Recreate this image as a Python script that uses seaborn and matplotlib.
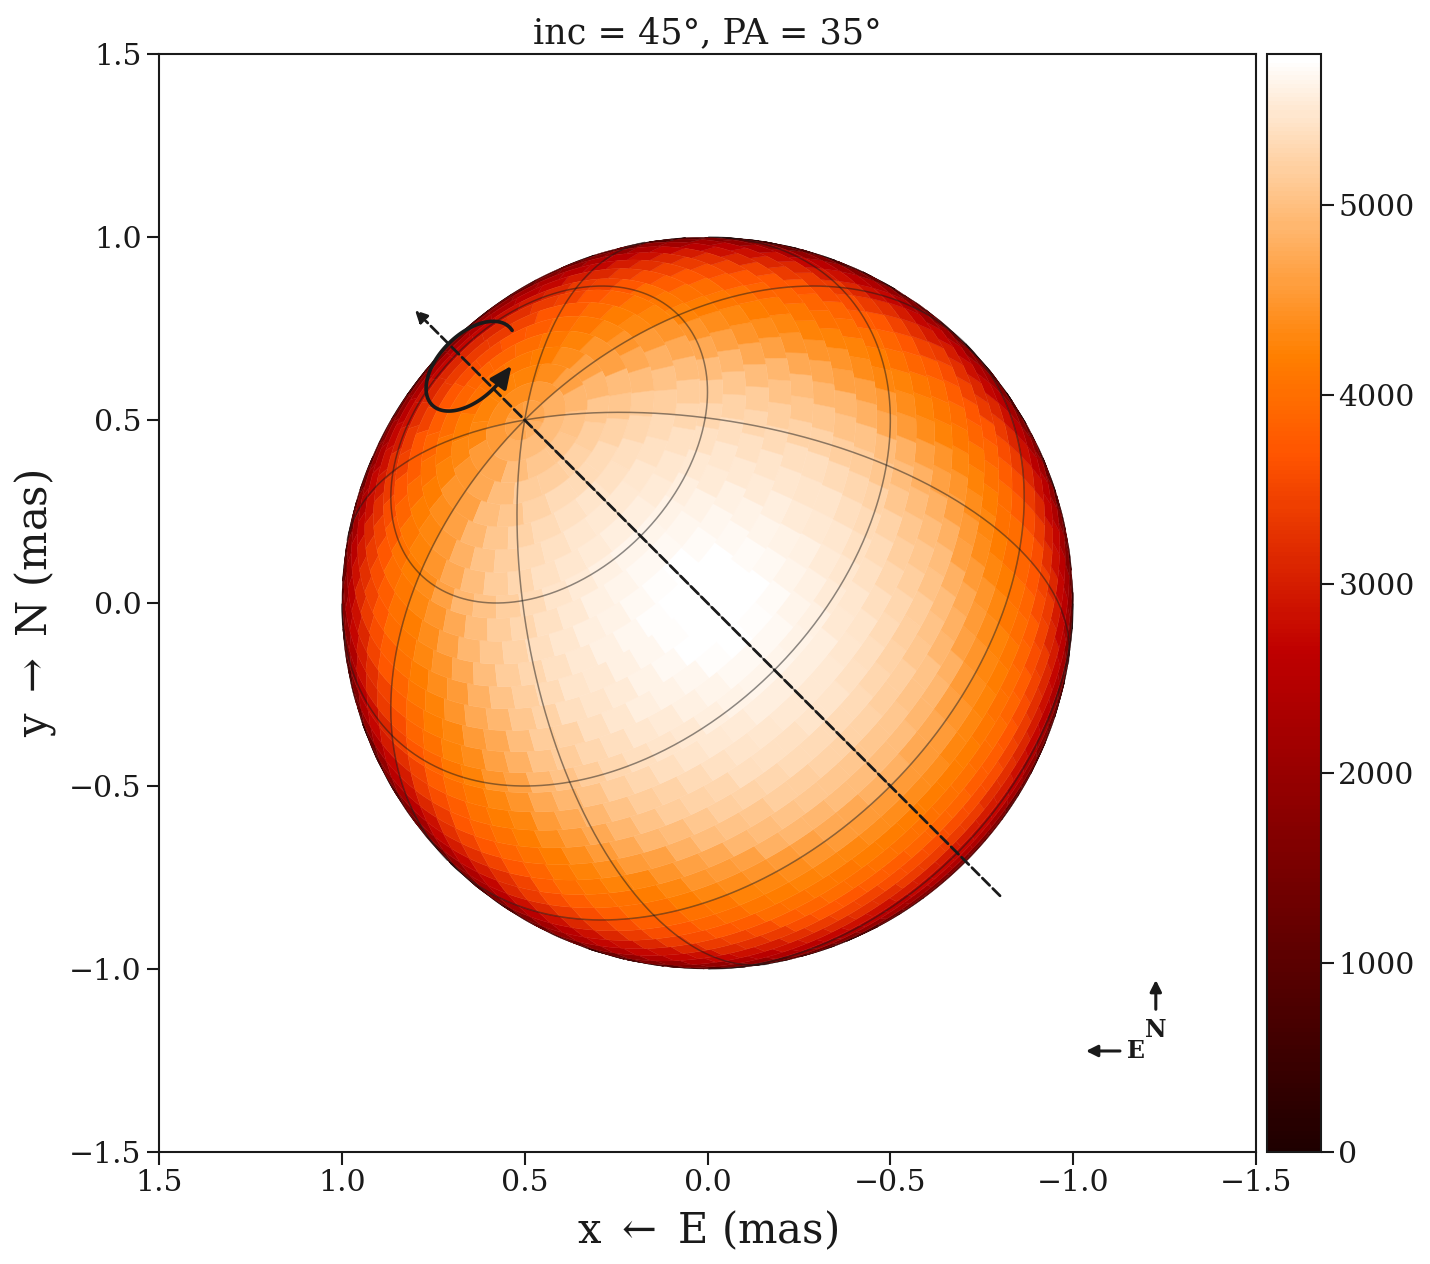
"""Limb-darkened stellar surface seen at inc = 45 deg, with lat/long grid."""

import numpy as np
import matplotlib
matplotlib.use('Agg')
import matplotlib.pyplot as plt
from matplotlib.collections import PolyCollection
from matplotlib.colors import ListedColormap
import seaborn as sns

sns.set_theme(style='ticks')
plt.rcParams['font.family'] = ['DejaVu Serif']
plt.rcParams['mathtext.fontset'] = 'dejavuserif'
for key in ['text.color', 'axes.labelcolor', 'xtick.color', 'ytick.color']:
    plt.rcParams[key] = 'k'

# surface temperature per 1.5 deg ring, from disc centre out to the limb
RING_TEMPS = [5790, 5790, 5785, 5775, 5760, 5745, 5725, 5705, 5680, 5660,
              5635, 5605, 5580, 5550, 5520, 5485, 5450, 5410, 5370, 5330,
              5290, 5245, 5200, 5150, 5090, 5030, 4965, 4900, 4815, 4725,
              4640, 4550, 4470, 4390, 4320, 4245, 4180, 4115, 4040, 3965,
              3880, 3790, 3695, 3595, 3480, 3365, 3235, 3105, 2975, 2845,
              2705, 2560, 2360, 2160, 1890, 1615, 1235, 855, 450, 40]
VMAX = 5800

TICKS = [-1.5, -1.0, -0.5, 0.0, 0.5, 1.0, 1.5]
CBAR_TICKS = [0, 1000, 2000, 3000, 4000, 5000]
PARALLELS = [-30, 0, 30, 60]
MERIDIANS = [0, 45, 135]

# stellar frame unit vectors in sky coords (x, y, towards observer)
POLE = np.array([0.5, 0.5, np.sqrt(0.5)])
U = np.array([np.sqrt(0.5), -np.sqrt(0.5), 0.0])
V = np.array([-0.5, -0.5, np.sqrt(0.5)])


def sky(lat, lon):
    lat, lon = np.radians(lat), np.radians(lon)
    pts = (np.multiply.outer(np.sin(lat), POLE)
           + np.multiply.outer(np.cos(lat) * np.cos(lon), U)
           + np.multiply.outer(np.cos(lat) * np.sin(lon), V))
    return pts[..., 0], pts[..., 1], pts[..., 2]


def plot_front(ax, lat, lon):
    gx, gy, gz = sky(lat, lon)
    gx = np.where(gz > 0, gx, np.nan)
    ax.plot(gx, gy, color='k', alpha=0.5, lw=1.1)


def surface_cells(lat_step=3.6, n_equator=80):
    """Roughly equal-area cells: fewer per band towards the poles."""
    polys, mus = [], []
    for lat0 in np.arange(-90, 90 - 1e-6, lat_step):
        lat1 = lat0 + lat_step
        latc = 0.5 * (lat0 + lat1)
        n_lon = max(6, int(round(n_equator * np.cos(np.radians(latc)))))
        edges = np.linspace(0, 360, n_lon + 1)
        for lon0, lon1 in zip(edges[:-1], edges[1:]):
            _, _, mu = sky(np.array(latc), np.array(0.5 * (lon0 + lon1)))
            if mu <= 0:
                continue
            # edges follow the parallels so neighbouring bands leave no gaps
            along = np.linspace(lon0, lon1, 8)
            cx, cy, _ = sky(np.r_[np.full(8, lat0), np.full(8, lat1)],
                            np.r_[along, along[::-1]])
            polys.append(np.column_stack([cx, cy]))
            mus.append(float(mu))
    return polys, np.array(mus)


fig = plt.figure(figsize=(14.3, 12.64), dpi=100)
ax = fig.add_axes([159 / 1430, 1 - 1152 / 1264, 1097 / 1430, 1098 / 1264])
cax = fig.add_axes([1267 / 1430, 1 - 1152 / 1264, 54 / 1430, 1098 / 1264])

# the bar starts on a very dark red, not on pure black
heat = sns.color_palette('gist_heat', as_cmap=True)
cmap = ListedColormap(heat(np.linspace(0.08, 1.0, 256)))

polys, mu = surface_cells()
n_rings = len(RING_TEMPS)
angle = np.degrees(np.arccos(np.clip(mu, -1, 1)))
ring = np.clip((angle / 90 * n_rings).astype(int), 0, n_rings - 1)

cells = PolyCollection(polys, cmap=cmap, edgecolors='face', linewidths=0.3)
cells.set_array(np.array(RING_TEMPS, dtype=float)[ring])
cells.set_clim(0, VMAX)
ax.add_collection(cells)

t = np.linspace(0, 360, 721)
for lat in PARALLELS:
    plot_front(ax, np.full_like(t, lat), t)
for lon in MERIDIANS:
    plot_front(ax, t, np.full_like(t, lon))
# meridian along the rotation axis, pole down to the equator
plot_front(ax, np.linspace(0, 90, 50), np.full(50, 90.0))

# rotation axis
ax.annotate('', xy=(0.8, 0.8), xytext=(-0.8, -0.8),
            arrowprops=dict(arrowstyle='-|>', color='k', lw=2.0, ls='--',
                            mutation_scale=18, shrinkA=0, shrinkB=0))

# rotation direction
theta = np.radians(np.linspace(-97, 195, 120))
s = 0.915 + 0.087 * np.cos(theta)
w = 0.15 * np.sin(theta)
arc_x, arc_y = (s + w) * np.sqrt(0.5), (s - w) * np.sqrt(0.5)
ax.plot(arc_x, arc_y, color='k', lw=2.6)
ax.annotate('', xy=(0.536, 0.648), xytext=(arc_x[-1], arc_y[-1]),
            arrowprops=dict(arrowstyle='-|>,head_length=0.55,head_width=0.25',
                            color='k', lw=2.6, mutation_scale=24,
                            shrinkA=0, shrinkB=0))

# compass
ax.annotate('', xy=(-1.226, -1.03), xytext=(-1.226, -1.11),
            arrowprops=dict(arrowstyle='-|>', color='k', lw=2.2,
                            mutation_scale=17, shrinkA=0, shrinkB=0))
ax.annotate('', xy=(-1.035, -1.224), xytext=(-1.128, -1.224),
            arrowprops=dict(arrowstyle='-|>', color='k', lw=2.2,
                            mutation_scale=17, shrinkA=0, shrinkB=0))
ax.text(-1.226, -1.167, 'N', ha='center', va='center', fontsize=17, fontweight='bold')
ax.text(-1.172, -1.224, 'E', ha='center', va='center', fontsize=17, fontweight='bold')

ax.set_xlim(1.5, -1.5)
ax.set_ylim(-1.5, 1.5)
ax.set_xticks(TICKS)
ax.set_yticks(TICKS)
ax.tick_params(labelsize=21.5, length=9, width=1.5)
ax.set_title('inc = 45°, PA = 35°', fontsize=25.2, pad=8)
ax.set_xlabel(r'x $\leftarrow$ E (mas)', fontsize=30, labelpad=8)
ax.set_ylabel(r'y $\rightarrow$ N (mas)', fontsize=30, labelpad=8)
for spine in ax.spines.values():
    spine.set_linewidth(1.5)
    spine.set_visible(True)
    spine.set_color('k')

cb = fig.colorbar(cells, cax=cax, ticks=CBAR_TICKS)
cb.ax.tick_params(labelsize=21.5, length=9, width=1.5)
cb.outline.set_linewidth(1.5)
cb.outline.set_edgecolor('k')

fig.savefig('out.png', dpi=100)
